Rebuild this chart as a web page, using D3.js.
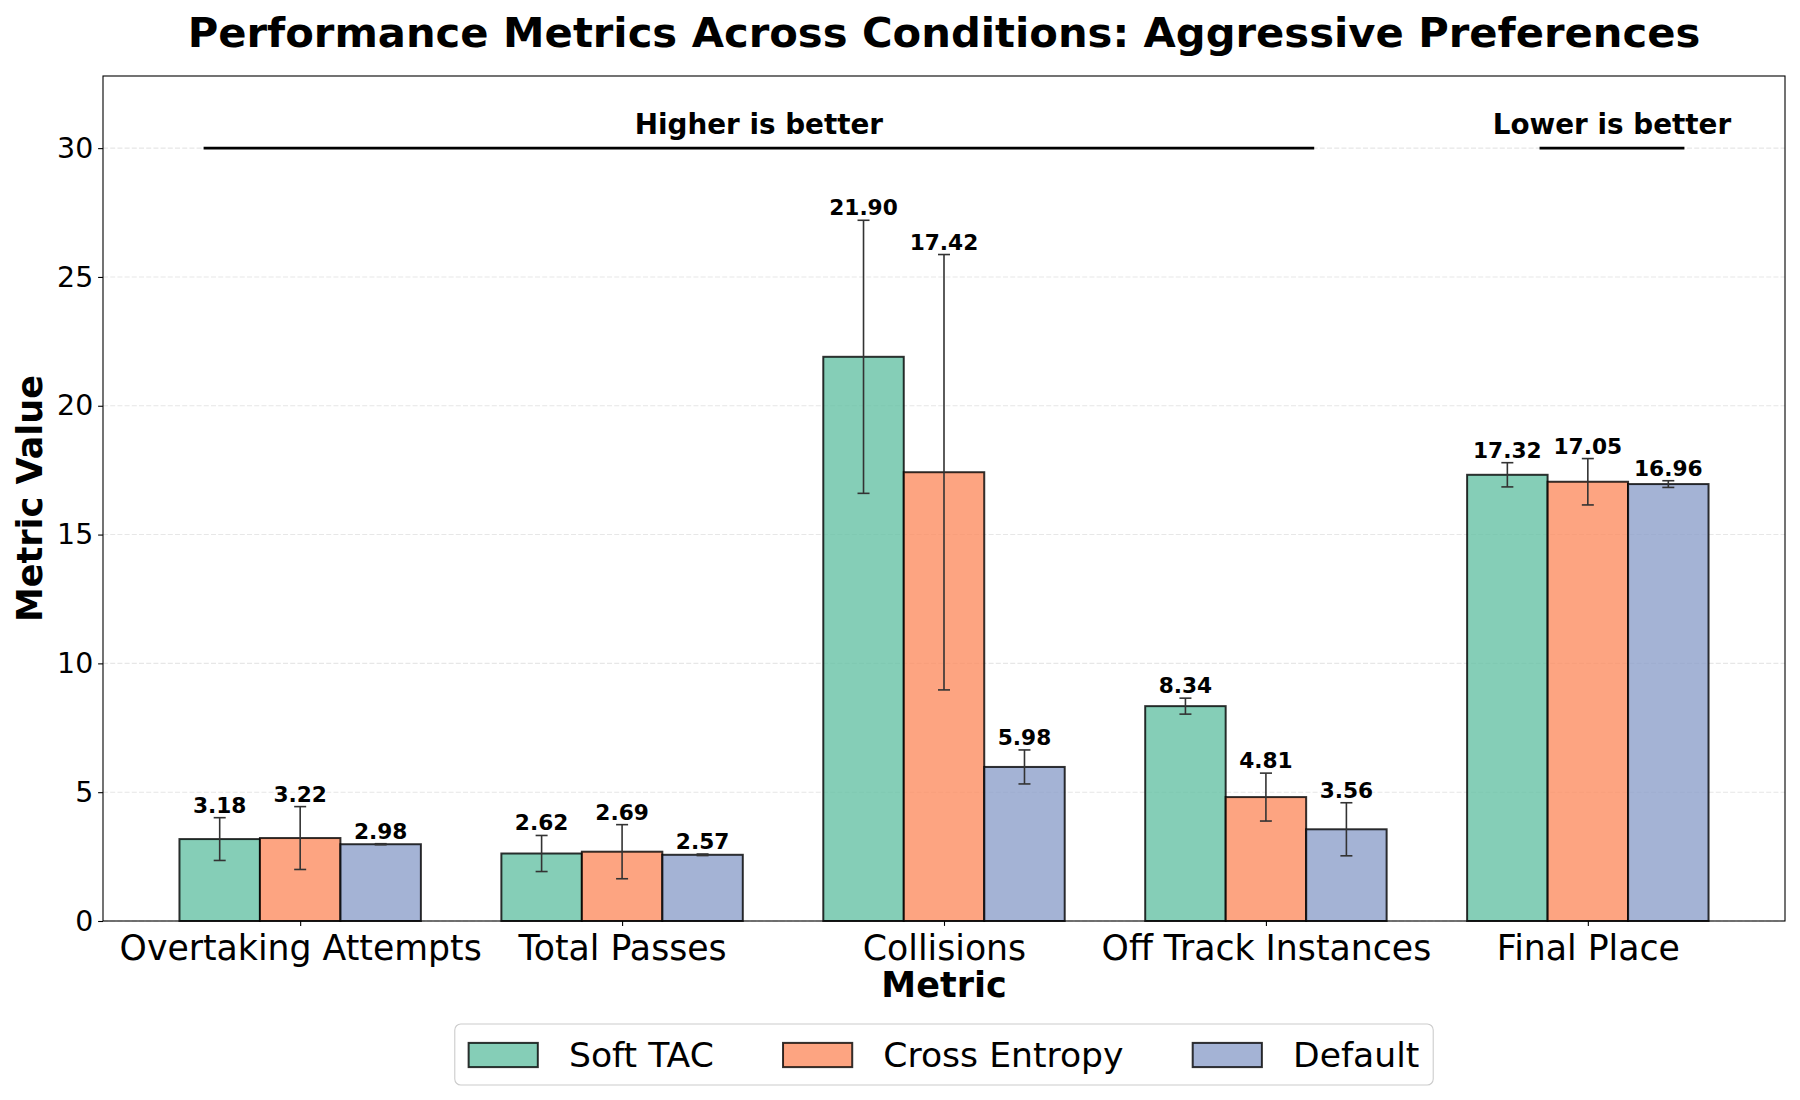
<!DOCTYPE html>
<html>
<head>
<meta charset="utf-8">
<script src="https://cdn.jsdelivr.net/npm/d3@7"></script>
<style>
  body { margin: 0; background: #fff; }
  text { font-family: "DejaVu Sans", sans-serif; }
</style>
</head>
<body>
<svg id="chart"></svg>
<script>
// data
const metrics = ['Overtaking Attempts', 'Total Passes', 'Collisions', 'Off Track Instances', 'Final Place'];
const conditions = ['Soft TAC', 'Cross Entropy', 'Default'];
const softTac = [3.18, 2.62, 21.90, 8.34, 17.32];
const softTacStd = [0.83, 0.70, 5.30, 0.31, 0.47];
const crossEntropy = [3.22, 2.69, 17.42, 4.81, 17.05];
const crossEntropyStd = [1.22, 1.05, 8.45, 0.93, 0.90];
const defaultVals = [2.98, 2.57, 5.98, 3.56, 16.96];
const defaultStd = [0.02, 0.03, 0.66, 1.03, 0.13];
const yTicks = [0, 5, 10, 15, 20, 25, 30];
const colors = ['#66c2a5', '#fc8d62', '#8da0cb'];

const series = [
  { name: conditions[0], values: softTac, std: softTacStd },
  { name: conditions[1], values: crossEntropy, std: crossEntropyStd },
  { name: conditions[2], values: defaultVals, std: defaultStd },
];

const W = 1800, H = 1100;
const plot = { left: 103, right: 1785, top: 76, bottom: 921 };
const barW = 0.25;

const svg = d3.select('#chart')
  .attr('width', W)
  .attr('height', H)
  .style('background-color', '#fff');

// x scale (category index, matplotlib style margins)
const x = d3.scaleLinear()
  .domain([-0.6125, metrics.length - 1 + 0.6125])
  .range([plot.left, plot.right]);

// y scale
const y = d3.scaleLinear()
  .domain([0, 32.8])
  .range([plot.bottom, plot.top]);

// grid
svg.append('g')
  .selectAll('line')
  .data(yTicks)
  .join('line')
  .attr('x1', plot.left).attr('x2', plot.right)
  .attr('y1', d => y(d)).attr('y2', d => y(d))
  .attr('stroke', '#b0b0b0')
  .attr('stroke-opacity', 0.3)
  .attr('stroke-width', 1.1)
  .attr('stroke-dasharray', '5,2.2');

// bars + error bars + labels
series.forEach((s, si) => {
  const off = (si - 1) * barW;
  const g = svg.append('g');

  g.selectAll('rect')
    .data(s.values)
    .join('rect')
    .attr('x', (d, i) => x(i + off - barW / 2))
    .attr('width', x(barW) - x(0))
    .attr('y', d => y(d))
    .attr('height', d => y(0) - y(d))
    .attr('fill', colors[si])
    .attr('fill-opacity', 0.8)
    .attr('stroke', '#000')
    .attr('stroke-opacity', 0.8)
    .attr('stroke-width', 2);

  const eb = g.selectAll('g.err')
    .data(s.values)
    .join('g')
    .attr('class', 'err')
    .attr('stroke', '#333')
    .attr('stroke-width', 1.6);
  eb.append('line')
    .attr('x1', (d, i) => x(i + off)).attr('x2', (d, i) => x(i + off))
    .attr('y1', (d, i) => y(d - s.std[i])).attr('y2', (d, i) => y(d + s.std[i]));
  eb.append('line')
    .attr('x1', (d, i) => x(i + off) - 6).attr('x2', (d, i) => x(i + off) + 6)
    .attr('y1', (d, i) => y(d + s.std[i])).attr('y2', (d, i) => y(d + s.std[i]));
  eb.append('line')
    .attr('x1', (d, i) => x(i + off) - 6).attr('x2', (d, i) => x(i + off) + 6)
    .attr('y1', (d, i) => y(d - s.std[i])).attr('y2', (d, i) => y(d - s.std[i]));

  g.selectAll('text')
    .data(s.values)
    .join('text')
    .attr('x', (d, i) => x(i + off))
    .attr('y', (d, i) => y(d + s.std[i]) - 5)
    .attr('text-anchor', 'middle')
    .attr('font-size', 21.7)
    .attr('font-weight', 'bold')
    .text(d => d.toFixed(2));
});

// "better" annotations
const notes = [
  { label: 'Higher is better', from: -0.3, to: 3.15 },
  { label: 'Lower is better', from: 3.85, to: 4.3 },
];
notes.forEach(n => {
  svg.append('line')
    .attr('x1', x(n.from)).attr('x2', x(n.to))
    .attr('y1', y(30)).attr('y2', y(30))
    .attr('stroke', '#000')
    .attr('stroke-width', 2.6);
  svg.append('text')
    .attr('x', x((n.from + n.to) / 2))
    .attr('y', y(30) - 14)
    .attr('text-anchor', 'middle')
    .attr('font-size', 27.8)
    .attr('font-weight', 'bold')
    .text(n.label);
});

// x axis
const xAxis = svg.append('g')
  .attr('transform', `translate(0,${plot.bottom})`)
  .call(d3.axisBottom(x)
    .tickValues(d3.range(metrics.length))
    .tickFormat(i => metrics[i])
    .tickSize(4.9)
    .tickPadding(4.9)
    .tickSizeOuter(0));
xAxis.select('.domain').remove();
xAxis.selectAll('line').attr('stroke', '#000').attr('stroke-width', 1.1);
xAxis.selectAll('text')
  .attr('font-family', '"DejaVu Sans", sans-serif')
  .attr('font-size', 34.7)
  .attr('fill', '#000')
  .attr('dy', null)
  .attr('y', 38.5);

// y axis
const yAxis = svg.append('g')
  .attr('transform', `translate(${plot.left},0)`)
  .call(d3.axisLeft(y)
    .tickValues(yTicks)
    .tickSize(4.9)
    .tickPadding(4.9)
    .tickSizeOuter(0));
yAxis.select('.domain').remove();
yAxis.selectAll('line').attr('stroke', '#000').attr('stroke-width', 1.1);
yAxis.selectAll('text')
  .attr('font-family', '"DejaVu Sans", sans-serif')
  .attr('font-size', 28.4)
  .attr('fill', '#000');

// frame
svg.append('rect')
  .attr('x', plot.left).attr('y', plot.top)
  .attr('width', plot.right - plot.left)
  .attr('height', plot.bottom - plot.top)
  .attr('fill', 'none')
  .attr('stroke', '#000')
  .attr('stroke-width', 1.1);

// title and axis labels
svg.append('text')
  .attr('x', (plot.left + plot.right) / 2)
  .attr('y', 46.5)
  .attr('text-anchor', 'middle')
  .attr('font-size', 41.7)
  .attr('font-weight', 'bold')
  .text('Performance Metrics Across Conditions: Aggressive Preferences');

svg.append('text')
  .attr('x', (plot.left + plot.right) / 2)
  .attr('y', 997)
  .attr('text-anchor', 'middle')
  .attr('font-size', 35)
  .attr('font-weight', 'bold')
  .text('Metric');

svg.append('text')
  .attr('transform', `translate(41.5,${(plot.top + plot.bottom) / 2}) rotate(-90)`)
  .attr('text-anchor', 'middle')
  .attr('font-size', 35)
  .attr('font-weight', 'bold')
  .text('Metric Value');

// legend (matplotlib-like layout)
const fs = 34.6;
const pad = fs * 0.4, handleW = fs * 2, textPad = fs * 0.9, colGap = fs * 2;
const leg = svg.append('g');
const box = leg.append('rect')
  .attr('fill', '#fff')
  .attr('fill-opacity', 0.8)
  .attr('stroke', '#ccc')
  .attr('stroke-width', 1.1)
  .attr('rx', 6);
let cx = 0;
const items = [];
conditions.forEach((c, i) => {
  const it = leg.append('g');
  it.append('rect')
    .attr('x', 0).attr('y', -fs * 0.35 - 12)
    .attr('width', handleW).attr('height', fs * 0.7)
    .attr('fill', colors[i])
    .attr('fill-opacity', 0.8)
    .attr('stroke', '#000')
    .attr('stroke-opacity', 0.8)
    .attr('stroke-width', 2);
  const t = it.append('text')
    .attr('x', handleW + textPad)
    .attr('y', 0)
    .attr('font-size', fs)
    .text(c);
  const tw = t.node().getComputedTextLength();
  items.push({ g: it, x: cx });
  cx += handleW + textPad + tw + colGap;
});
const legW = cx - colGap + pad * 2;
const legX = (plot.left + plot.right) / 2 - legW / 2;
const legTop = 1024, legH = 61;
box.attr('x', legX).attr('y', legTop).attr('width', legW).attr('height', legH);
items.forEach(it => {
  it.g.attr('transform', `translate(${legX + pad + it.x},${legTop + 43})`);
});
</script>
</body>
</html>
